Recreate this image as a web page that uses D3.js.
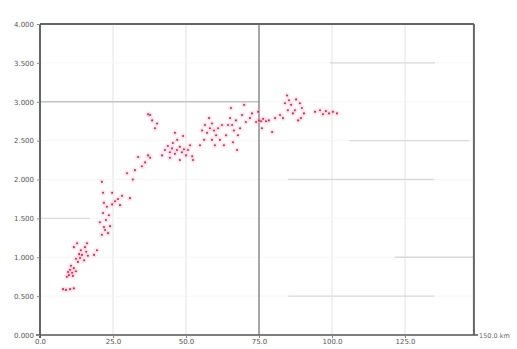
<!DOCTYPE html>
<html><head><meta charset="utf-8">
<script src="https://cdn.jsdelivr.net/npm/d3@7"></script>
<style>body{margin:0;background:#fff;}svg{display:block;}text{font-family:"DejaVu Sans",sans-serif;}</style>
</head><body>
<svg id="c" width="517" height="349"></svg>
<script>
// data
const xTicks = [0, 25, 50, 75, 100, 125];
const xTickLabels = ["0.0", "25.0", "50.0", "75.0", "100.0", "125.0"];
const xEndLabel = "150.0 km";
const yTicks = [0, 0.5, 1, 1.5, 2, 2.5, 3, 3.5, 4];
const yTickLabels = ["0.000", "0.500", "1.000", "1.500", "2.000", "2.500", "3.000", "3.500", "4.000"];
const xs = [7.9,8.9,10.3,11.6,9.6,10.3,11.0,9.9,11.6,10.6,12.3,11.3,9.2,13.0,13.7,14.4,15.1,13.4,15.8,14.0,16.4,12.3,15.4,11.6,12.7,16.1,19.5,18.5,
21.2,22.3,23.3,21.9,24.0,20.5,22.6,21.6,23.6,22.9,24.7,25.7,26.7,21.9,21.6,24.7,21.2,28.1,30.8,27.4,29.8,32.5,31.8,33.6,36.0,37.7,34.9,37.0,
37.7,38.4,40.1,39.4,37.0,
42.8,43.8,44.5,45.2,46.2,46.9,47.9,48.6,49.3,50.0,50.7,51.4,52.1,45.5,47.0,46.2,49.0,44.5,47.9,52.4,41.8,
55.5,56.5,57.2,58.2,58.9,59.6,60.3,61.0,61.6,62.3,56.2,54.8,57.9,63.7,63.0,59.9,58.9,
65.1,65.8,66.4,67.1,67.8,68.5,69.2,66.1,67.5,65.4,69.9,64.4,70.5,71.9,72.6,
74.0,75.0,75.7,76.4,77.4,78.4,79.5,74.7,76.0,80.5,82.2,
84.6,85.3,86.0,84.9,86.6,83.9,89.0,89.7,90.4,89.4,87.7,88.4,83.2,87.3,
94.2,96.9,97.9,99.0,100.3,101.7,95.9];
const ys = [0.59,0.58,0.59,0.60,0.81,0.84,0.80,0.77,0.86,0.89,0.82,0.76,0.75,0.94,0.99,1.03,0.96,1.04,1.07,1.09,1.02,0.98,1.13,1.13,1.18,1.18,1.09,1.03,
1.29,1.35,1.31,1.39,1.40,1.45,1.48,1.57,1.54,1.65,1.68,1.72,1.75,1.70,1.83,1.83,1.97,1.79,1.76,1.67,2.08,2.12,2.00,2.29,2.22,2.28,2.17,2.31,
2.83,2.76,2.72,2.66,2.84,
2.38,2.43,2.35,2.40,2.33,2.38,2.42,2.35,2.39,2.31,2.38,2.44,2.30,2.47,2.51,2.60,2.56,2.28,2.25,2.25,2.31,
2.63,2.70,2.60,2.66,2.72,2.63,2.57,2.66,2.51,2.70,2.51,2.44,2.79,2.57,2.44,2.44,2.51,
2.79,2.70,2.63,2.76,2.57,2.66,2.83,2.48,2.38,2.92,2.96,2.70,2.74,2.79,2.85,
2.74,2.76,2.75,2.78,2.75,2.76,2.61,2.87,2.66,2.79,2.83,
3.08,3.02,2.96,2.89,2.85,2.98,2.98,2.92,2.85,2.79,3.03,2.76,2.79,2.89,
2.87,2.84,2.88,2.85,2.87,2.85,2.89];
// partial gridline segments: [y value, x from, x to]
const hSegY = [3.0, 3.5, 2.5, 2.0, 1.5, 1.0, 0.5];
const hSegX0 = [0, 99.3, 106, 85, 0, 121.5, 85];
const hSegX1 = [75, 135.3, 147, 135, 17, 148.6, 135];

const svg = d3.select("#c");
const x = d3.scaleLinear().domain([0, 150]).range([40, 478]);
const y = d3.scaleLinear().domain([0, 4]).range([335, 24]);
const xR = x(148.6);

// faint full gridlines
const g = svg.append("g");
g.selectAll(".vg").data(xTicks.filter(d => d > 0 && d !== 75)).join("line")
  .attr("x1", d => x(d)).attr("x2", d => x(d)).attr("y1", y(4)).attr("y2", y(0))
  .attr("stroke", "#ececec").attr("stroke-width", 1.5);
g.selectAll(".hg").data(yTicks.filter(d => d > 0 && d < 4)).join("line")
  .attr("x1", x(0)).attr("x2", xR).attr("y1", d => y(d)).attr("y2", d => y(d))
  .attr("stroke", "#f6f6f6").attr("stroke-width", 1);
g.selectAll(".hs").data(hSegY).join("line")
  .attr("x1", (d, i) => x(hSegX0[i])).attr("x2", (d, i) => x(hSegX1[i]))
  .attr("y1", d => y(d)).attr("y2", d => y(d))
  .attr("stroke", (d, i) => i === 0 ? "#c4c4c4" : "#dadada").attr("stroke-width", 1.3);
// dark vertical line at 75
g.append("line").attr("x1", x(75)).attr("x2", x(75)).attr("y1", y(4)).attr("y2", y(0))
  .attr("stroke", "#777").attr("stroke-width", 1.3);

// points
const pts = xs.map((v, i) => [v, ys[i]]);
svg.append("g").selectAll("circle").data(pts).join("circle")
  .attr("cx", d => x(d[0])).attr("cy", d => y(d[1])).attr("r", 2.8)
  .attr("fill", "#f7b3c6").attr("opacity", 0.3);
svg.append("g").selectAll("circle").data(pts).join("circle")
  .attr("cx", d => x(d[0])).attr("cy", d => y(d[1])).attr("r", 1.05)
  .attr("fill", "#d42a55");

// frame
svg.append("line").attr("x1", x(0)).attr("x2", xR).attr("y1", y(4)).attr("y2", y(4))
  .attr("stroke", "#666").attr("stroke-width", 2);
svg.append("line").attr("x1", xR).attr("x2", xR).attr("y1", y(4)).attr("y2", y(0))
  .attr("stroke", "#666").attr("stroke-width", 2);

// axes
const xAxis = d3.axisBottom(x).tickValues(xTicks).tickFormat((d, i) => xTickLabels[i]).tickSize(3).tickSizeOuter(0);
const xg = svg.append("g").attr("transform", `translate(0,${y(0)})`).call(xAxis);
xg.select(".domain").attr("d", `M36,0H${x(150)}`).attr("stroke", "#555").attr("stroke-width", 1.6);
xg.selectAll(".tick line").attr("stroke", "#888");
xg.selectAll("text").attr("font-size", 7).attr("fill", "#555").attr("dy", "0.45em");
svg.append("text").attr("x", x(150) + 1).attr("y", y(0) + 3).attr("font-size", 6.5).attr("fill", "#666").text(xEndLabel);

const yAxis = d3.axisLeft(y).tickValues(yTicks).tickFormat((d, i) => yTickLabels[i]).tickSize(3).tickSizeOuter(0);
const yg = svg.append("g").attr("transform", `translate(${x(0)},0)`).call(yAxis);
yg.select(".domain").attr("d", `M0,${y(4)}V${y(0) + 3}`).attr("stroke", "#555").attr("stroke-width", 1.8);
yg.selectAll(".tick line").attr("stroke", "#888");
yg.selectAll("text").attr("font-size", 7).attr("fill", "#555");
</script>
</body></html>
